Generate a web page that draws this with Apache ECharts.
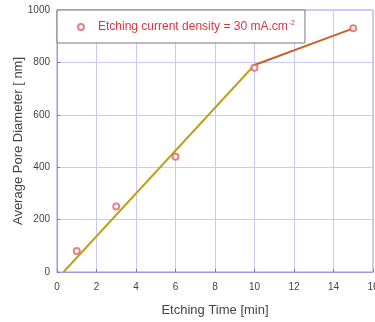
<!DOCTYPE html>
<html>
<head>
<meta charset="utf-8">
<script src="https://cdn.jsdelivr.net/npm/echarts@6/dist/echarts.min.js"></script>
<style>
  html, body { margin: 0; padding: 0; background: #fff; }
  #chart { width: 375px; height: 322px; }
</style>
</head>
<body>
<div id="chart"></div>
<script>
// measured points (min, nm)
const etchTime = [1, 3, 6, 10, 15]
const poreDiameter = [80, 250, 440, 780, 930]
// fitted lines
const fitA = [[0.33, 0], [10, 790]]
const fitB = [[10, 790], [15, 930]]
const xTicks = { min: 0, max: 16, step: 2 }
const yTicks = { min: 0, max: 1000, step: 200 }

const gridColor = '#c9c9f3'
const boxColor = '#9a9ae6'
const labelStyle = { color: '#444', fontSize: 10, fontFamily: 'Liberation Sans, Arial, sans-serif' }
const nameStyle = { color: '#444', fontSize: 13, fontFamily: 'Liberation Sans, Arial, sans-serif' }

const option = {
  animation: false,
  grid: {
    left: 57,
    right: 2,
    top: 10,
    bottom: 50,
    containLabel: false,
    outerBoundsMode: 'none',
    show: true,
    borderColor: boxColor,
    borderWidth: 1
  },
  legend: {
    left: 57,
    top: 10,
    orient: 'horizontal',
    padding: [10, 10, 10, 20],
    itemGap: 0,
    itemWidth: 6,
    itemHeight: 6,
    borderColor: '#777',
    borderWidth: 1,
    backgroundColor: '#fff',
    data: [{ name: 'density', icon: 'emptyCircle' }],
    formatter () {
      return '{a|Etching current density = 30 mA.cm}{s|-2}'
    },
    textStyle: {
      padding: [0, 0, 0, 9],
      rich: {
        a: { color: '#e0343c', fontSize: 12, fontFamily: 'Liberation Sans, Arial, sans-serif', lineHeight: 14 },
        s: { color: '#e0343c', fontSize: 7, fontFamily: 'Liberation Sans, Arial, sans-serif', verticalAlign: 'top', lineHeight: 14, padding: [0, 0, 6, 1] }
      }
    }
  },
  xAxis: {
    type: 'value',
    min: xTicks.min,
    max: xTicks.max,
    interval: xTicks.step,
    name: 'Etching Time [min]',
    nameLocation: 'middle',
    nameGap: 32,
    nameMoveOverlap: false,
    nameTextStyle: nameStyle,
    axisLine: { lineStyle: { color: boxColor } },
    axisTick: { inside: true, length: 3, lineStyle: { color: '#7777cc' } },
    axisLabel: Object.assign({ margin: 10 }, labelStyle),
    splitLine: { lineStyle: { color: gridColor } }
  },
  yAxis: {
    type: 'value',
    min: yTicks.min,
    max: yTicks.max,
    interval: yTicks.step,
    name: 'Average Pore Diameter [ nm]',
    nameLocation: 'middle',
    nameGap: 32,
    nameMoveOverlap: false,
    nameTextStyle: nameStyle,
    axisLine: { show: true, lineStyle: { color: boxColor } },
    axisTick: { show: true, inside: true, length: 3, lineStyle: { color: '#7777cc' } },
    axisLabel: Object.assign({ margin: 7, formatter: v => String(v) }, labelStyle),
    splitLine: { lineStyle: { color: gridColor } }
  },
  series: [
    {
      type: 'line',
      data: fitA,
      symbol: 'none',
      lineStyle: { color: '#bca21e', width: 2 },
      z: 2
    },
    {
      type: 'line',
      data: fitB,
      symbol: 'none',
      lineStyle: { color: '#c4622a', width: 2 },
      z: 2
    },
    {
      name: 'density',
      type: 'scatter',
      data: etchTime.map((t, i) => [t, poreDiameter[i]]),
      symbol: 'emptyCircle',
      symbolSize: 6,
      itemStyle: { color: '#e2606a', borderColor: '#e2606a', borderWidth: 1 },
      z: 3
    }
  ]
}

const myChart = echarts.init(document.getElementById('chart'))
myChart.setOption(option)
</script>
</body>
</html>
